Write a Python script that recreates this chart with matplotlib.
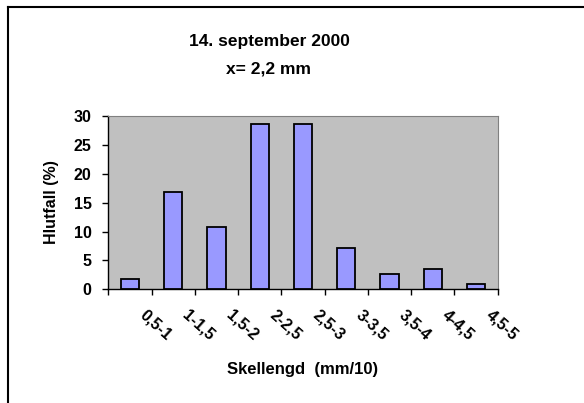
import matplotlib
matplotlib.use('Agg')
import matplotlib.pyplot as plt
import matplotlib.transforms as mtransforms
import numpy as np

plt.rcParams['font.family'] = ['Liberation Sans', 'DejaVu Sans']
plt.rcParams['font.weight'] = 'bold'

categories = ['0,5-1', '1-1,5', '1,5-2', '2-2,5', '2,5-3', '3-3,5', '3,5-4', '4-4,5', '4,5-5']
values = [1.7, 16.9, 10.7, 28.6, 28.6, 7.2, 2.7, 3.5, 0.9]
title_lines = ['14. september 2000', 'x= 2,2 mm']
xlabel = 'Skellengd  (mm/10)'
ylabel = 'Hlutfall (%)'

fig = plt.figure(figsize=(5.84, 4.03), dpi=100)
ax = fig.add_axes([0.1854, 0.2821, 0.6668, 0.4301])
ax.set_facecolor('#C0C0C0')

x = np.arange(len(categories))
ax.bar(x, values, width=0.42, color='#9999FF', edgecolor='black', linewidth=1.3, zorder=3)

ax.set_xlim(-0.5, len(categories) - 0.5)
ax.set_ylim(0, 30)
ax.set_yticks(range(0, 31, 5))
ax.tick_params(axis='y', labelsize=11.5, length=4, width=1, pad=8)

# ticks at category boundaries, labels at centres
ax.set_xticks(np.arange(len(categories) + 1) - 0.5)
ax.set_xticklabels([])
ax.tick_params(axis='x', length=4, width=1)
ax.set_xticks(x, minor=True)
ax.set_xticklabels(categories, minor=True, rotation=-42, ha='left', va='center',
                   rotation_mode='anchor', fontsize=11.5)
ax.tick_params(axis='x', which='minor', length=0, pad=17)
offset = mtransforms.ScaledTranslation(12 / 100, 0, fig.dpi_scale_trans)
for lbl in ax.get_xticklabels(minor=True):
    lbl.set_transform(lbl.get_transform() + offset)

for side in ['top', 'right']:
    ax.spines[side].set_color('#808080')
ax.spines['left'].set_linewidth(1)
ax.spines['bottom'].set_linewidth(1)

fig.text(0.462, 0.896, title_lines[0], ha='center', va='center', fontsize=12.5, fontweight='bold')
fig.text(0.46, 0.829, title_lines[1], ha='center', va='center', fontsize=12.5, fontweight='bold')
fig.text(0.518, 0.082, xlabel, ha='center', va='center', fontsize=12, fontweight='bold')
fig.text(0.088, 0.499, ylabel, ha='center', va='center', rotation=90, fontsize=11.5, fontweight='bold')

# chart area border (only left and top visible in the crop)
fig.add_artist(plt.Line2D([0.0137, 0.0137], [0.0, 0.983], color='black', linewidth=1.5))
fig.add_artist(plt.Line2D([0.0137, 1.0], [0.983, 0.983], color='black', linewidth=1.5))

fig.savefig('out.png', dpi=100)
